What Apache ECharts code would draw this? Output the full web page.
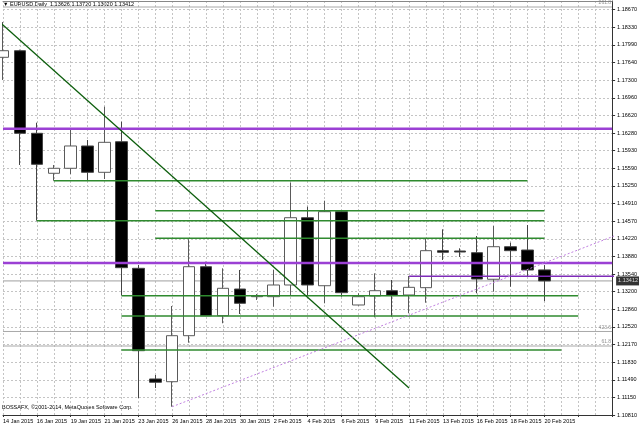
<!DOCTYPE html>
<html><head><meta charset="utf-8">
<script src="https://cdn.jsdelivr.net/npm/echarts@6/dist/echarts.min.js"></script>
<style>html,body{margin:0;padding:0;background:#fff}#c{width:640px;height:427px}</style>
</head><body><div id="c"></div>
<script>
// ---- data ----
const dates = ['14 Jan 2015','15 Jan 2015','16 Jan 2015','18 Jan 2015','19 Jan 2015','20 Jan 2015','21 Jan 2015','22 Jan 2015','23 Jan 2015','25 Jan 2015','26 Jan 2015','27 Jan 2015','28 Jan 2015','29 Jan 2015','30 Jan 2015','1 Feb 2015','2 Feb 2015','3 Feb 2015','4 Feb 2015','5 Feb 2015','6 Feb 2015','8 Feb 2015','9 Feb 2015','10 Feb 2015','11 Feb 2015','12 Feb 2015','13 Feb 2015','15 Feb 2015','16 Feb 2015','17 Feb 2015','18 Feb 2015','19 Feb 2015','20 Feb 2015'];
const emptySlots = 4;
const opens  = [1.17752,1.17880,1.16277,1.15501,1.15598,1.16031,1.15520,1.16114,1.13657,1.11509,1.11456,1.12349,1.13688,1.12737,1.13255,1.13106,1.13106,1.13333,1.14639,1.13319,1.14756,1.12945,1.13120,1.13222,1.13139,1.13281,1.13999,1.13993,1.13960,1.13444,1.14076,1.14012,1.13626];
const closes = [1.17880,1.16277,1.15675,1.15598,1.16031,1.15520,1.16102,1.13669,1.12058,1.11445,1.12349,1.13688,1.12737,1.13269,1.12978,1.13120,1.13333,1.14639,1.13333,1.14756,1.13184,1.13106,1.13222,1.13133,1.13288,1.13999,1.13968,1.13973,1.13449,1.14076,1.13999,1.13624,1.13412];
const lows   = [1.17312,1.15662,1.14581,1.15357,1.15487,1.15371,1.15390,1.13130,1.11140,1.11334,1.10971,1.12213,1.12731,1.12590,1.12770,1.13042,1.12912,1.13139,1.13139,1.12978,1.13106,1.12935,1.12706,1.12718,1.12784,1.12989,1.13818,1.13876,1.13172,1.13203,1.13300,1.13494,1.13020];
const highs  = [1.18437,1.17900,1.16483,1.15662,1.16355,1.16147,1.16793,1.16502,1.13721,1.11586,1.12925,1.14220,1.13785,1.13657,1.13624,1.13158,1.13624,1.15318,1.14853,1.14969,1.14769,1.13172,1.13560,1.13430,1.13508,1.14239,1.14414,1.14045,1.14284,1.14478,1.14154,1.14497,1.13720];

const yTickLabels = ['1.10810','1.11150','1.11490','1.11830','1.12170','1.12520','1.12860','1.13200','1.13540','1.13880','1.14220','1.14570','1.14910','1.15250','1.15590','1.15930','1.16280','1.16620','1.16960','1.17300','1.17640','1.17990','1.18330','1.18670'];
const yMin = 1.10810;
const yMax = 1.188253;
const yStep = 0.0034200617;

const purpleLevels = [1.16366, 1.13760];
const bidPrice = 1.13412;
const fibLevels = [1.18728, 1.12431, 1.12149];
const fibNames = ['261.8', '423.6', '61.8'];

const greenPrice = [1.15357, 1.14775, 1.14581, 1.14239, 1.13125, 1.12731, 1.12072];
const greenFrom  = [3, 9, 2, 9, 7, 7, 7];
const greenTo    = [31, 32, 32, 32, 34, 34, 33];

const thinPurplePrice = [1.13502];
const thinPurpleFrom = [24];
const thinPurpleTo = [37];

const trendX = [-0.2, 24];
const trendY = [1.18438, 1.11334];
const dotX = [10, 37];
const dotY = [1.10971, 1.14396];

const titleText = '\u25BC EURUSD,Daily  1.13626 1.13720 1.13020 1.13412';
const copyText = 'BOSSAFX, \u00A92001-2014, MetaQuotes Software Corp.';

// ---- build ----
const FONT = "'Liberation Sans', 'DejaVu Sans', sans-serif";
const cats = dates.concat(Array(emptySlots).fill(''));
const candleData = opens.map((o, i) => [o, closes[i], lows[i], highs[i]]);
const nCat = cats.length;
const xEnd = nCat - 1;

function hLine(p, x0, x1, color, width, z) {
  return {type: 'line', xAxisIndex: 1, yAxisIndex: 0, symbol: 'none', z: z, silent: true,
    lineStyle: {color: color, width: width, type: 'solid'}, data: [[x0, p], [x1, p]]};
}

const series = [{
  type: 'candlestick', xAxisIndex: 0, yAxisIndex: 0, data: candleData, barWidth: 12, z: 2,
  itemStyle: {color: '#ffffff', color0: '#000000', borderColor: '#5a5a5a', borderColor0: '#444', borderWidth: 1}
}];
fibLevels.forEach(p => series.push(hLine(p, 0, xEnd, '#a8a8a8', 1, 1)));
series.push(hLine(bidPrice, 0, xEnd, '#a0a0a0', 1, 1));
purpleLevels.forEach(p => series.push(hLine(p, 0, xEnd, '#9b40d4', 2.5, 4)));
greenPrice.forEach((p, i) => series.push(hLine(p, greenFrom[i], greenTo[i], '#2f8a2f', 1.5, 4)));
thinPurplePrice.forEach((p, i) => series.push(hLine(p, thinPurpleFrom[i], thinPurpleTo[i], '#7e2cb8', 1.5, 4)));
series.push({type: 'line', xAxisIndex: 1, yAxisIndex: 0, symbol: 'none', z: 4, silent: true,
  lineStyle: {color: '#0d5e0d', width: 1.3}, data: trendX.map((x, i) => [x, trendY[i]])});
series.push({type: 'line', xAxisIndex: 1, yAxisIndex: 0, symbol: 'none', z: 4, silent: true,
  lineStyle: {color: '#c080e0', width: 1, type: [2, 2]}, data: dotX.map((x, i) => [x, dotY[i]])});
// fib level captions
series.push({type: 'scatter', xAxisIndex: 1, yAxisIndex: 0, symbolSize: 0, silent: true, z: 5, clip: false,
  data: fibLevels.map((p, i) => ({value: [xEnd, p], name: fibNames[i]})),
  label: {show: true, position: 'left', distance: 1, offset: [0, -4], formatter: d => d.name,
    color: '#777', fontSize: 5, fontFamily: FONT}});
// current price tag
series.push({type: 'scatter', xAxisIndex: 1, yAxisIndex: 0, symbolSize: 0, silent: true, z: 6, clip: false,
  data: [[xEnd, bidPrice]],
  label: {show: true, position: 'right', distance: 4, formatter: bidPrice.toFixed(5),
    color: '#fff', backgroundColor: '#000', padding: [2, 1, 1, 2], fontSize: 5.5, fontFamily: FONT}});

const gridLine = {show: true, lineStyle: {color: '#c4c4c4', width: 1, type: [2, 2]}};

const chart = echarts.init(document.getElementById('c'), null, {renderer: 'canvas'});
chart.setOption({
  animation: false,
  backgroundColor: '#ffffff',
  grid: {left: 2, right: 25, top: 1, bottom: 12, containLabel: false},
  xAxis: [{
    type: 'category', data: cats, boundaryGap: false, position: 'bottom',
    axisLine: {show: true, lineStyle: {color: '#333', width: 1}},
    axisTick: {show: true, interval: 1, length: 2, lineStyle: {color: '#333'}},
    axisLabel: {interval: 1, align: 'left', margin: 3, fontSize: 5.5, fontFamily: FONT, color: '#000', hideOverlap: false},
    splitLine: Object.assign({interval: 0}, gridLine)
  }, {
    type: 'value', min: 0, max: xEnd, position: 'top',
    axisLine: {show: true, onZero: false, lineStyle: {color: '#888', width: 1}},
    axisTick: {show: false}, axisLabel: {show: false}, splitLine: {show: false}
  }],
  yAxis: [{
    type: 'value', position: 'right', min: yMin, max: 1.188447, interval: yStep, scale: true,
    axisLine: {show: true, onZero: false, lineStyle: {color: '#333', width: 1}},
    axisTick: {show: true, length: 3, lineStyle: {color: '#333'}},
    axisLabel: {margin: 5, fontSize: 5.5, fontFamily: FONT, color: '#000', showMaxLabel: false, showMinLabel: true,
      formatter: v => { const k = Math.round((v - yMin) / yStep); return yTickLabels[k] || ''; }},
    splitLine: gridLine
  }],
  graphic: [
    {type: 'text', left: 3, top: 1, silent: true, style: {text: titleText, fill: '#000', font: '5.5px ' + FONT}},
    {type: 'text', left: 2, top: 404, silent: true, style: {text: copyText, fill: '#000', font: '5.5px ' + FONT}}
  ],
  series: series
});
</script>
</body></html>
